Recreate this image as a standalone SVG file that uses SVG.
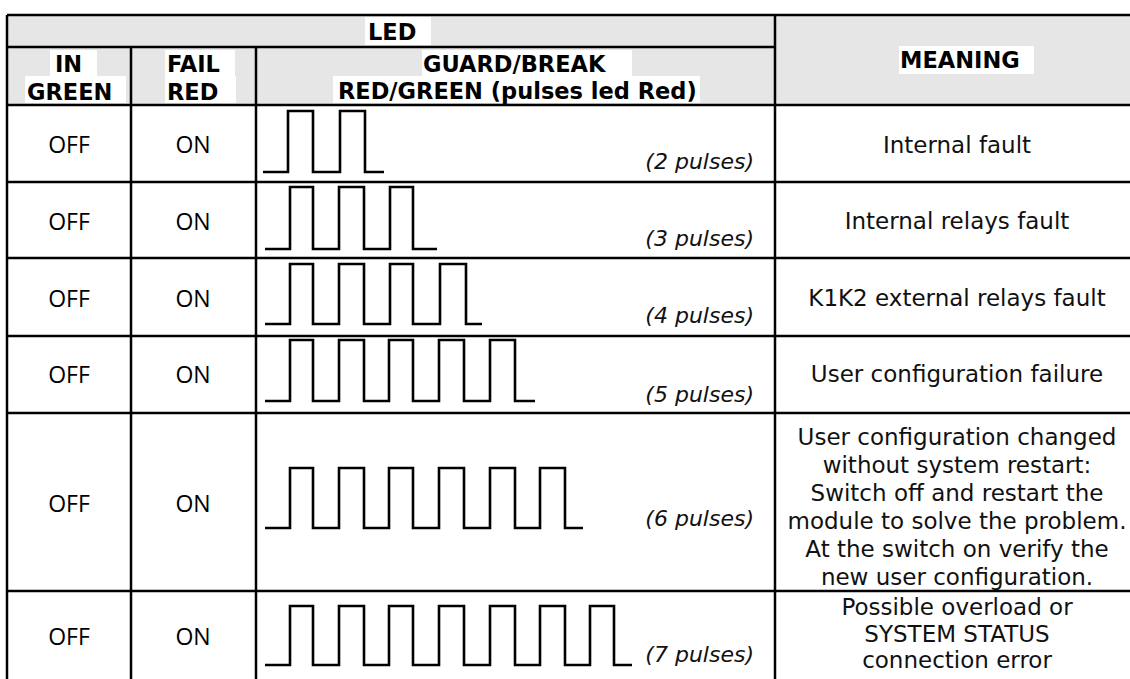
<svg xmlns="http://www.w3.org/2000/svg" width="1130" height="679" viewBox="0 0 1130 679">
<style>
.grid{stroke:#000;stroke-width:2.5;fill:none}
.hl{fill:#fff}
.hd{font-family:"DejaVu Sans",Verdana,sans-serif;font-weight:bold;font-size:22.5px;fill:#000}
.st{font-family:"Open Sans","Noto Sans",sans-serif;font-size:23px;fill:#000;text-anchor:middle}
.mn{font-family:"DejaVu Sans",Verdana,sans-serif;font-size:23px;fill:#111;text-anchor:middle}
.pl{font-family:"DejaVu Sans",Verdana,sans-serif;font-style:italic;font-size:22px;fill:#111;text-anchor:end}
.wave{stroke:#000;stroke-width:2.6;fill:none;stroke-linejoin:miter;stroke-linecap:butt}
</style>
<rect x="0" y="0" width="1130" height="679" fill="#fff"/>
<g id="header">
<rect x="7" y="15" width="1125" height="90" fill="#e6e6e6"/>
<rect class="hl" x="365" y="17" width="66" height="28"/>
<rect class="hl" x="50" y="50" width="47" height="26"/>
<rect class="hl" x="25" y="76" width="101" height="27"/>
<rect class="hl" x="165" y="50" width="70" height="26"/>
<rect class="hl" x="165" y="76" width="71" height="27"/>
<rect class="hl" x="422" y="50" width="210" height="26"/>
<rect class="hl" x="333" y="76" width="367" height="27"/>
<rect class="hl" x="899" y="46" width="135" height="28"/>
<text class="hd" x="368" y="40">LED</text>
<text class="hd" x="55" y="72">IN</text>
<text class="hd" x="27" y="100">GREEN</text>
<text class="hd" x="167" y="72">FAIL</text>
<text class="hd" x="167" y="100">RED</text>
<text class="hd" x="423" y="72">GUARD/BREAK</text>
<text class="hd" x="338" y="99">RED/GREEN (pulses led Red)</text>
<text class="hd" x="900" y="68">MEANING</text>
</g>
<g id="connectors">
<path class="grid" d="M7,15 H1132 M7,47 H775 M7,105 H1132 M7,182 H1132 M7,258 H1132 M7,336 H1132 M7,413 H1132 M7,591 H1132"/>
<path class="grid" d="M7,15 V680 M131,47 V680 M256,47 V680 M775,15 V680"/>
</g>
<g id="row1">
<text class="st" x="69" y="153">OFF</text>
<text class="st" x="193" y="153">ON</text>
<path class="wave" d="M263,172 H288 V111 H313 V172 H340 V111 H365 V172 H384"/>
<text class="pl" x="754" y="169">(2 pulses)</text>
<text class="mn" x="957" y="153">Internal fault</text>
</g>
<g id="row2">
<text class="st" x="69" y="230">OFF</text>
<text class="st" x="193" y="230">ON</text>
<path class="wave" d="M265,249 H290 V187 H313 V249 H339 V187 H364 V249 H390 V187 H413 V249 H437"/>
<text class="pl" x="754" y="246">(3 pulses)</text>
<text class="mn" x="957" y="229">Internal relays fault</text>
</g>
<g id="row3">
<text class="st" x="69" y="307">OFF</text>
<text class="st" x="193" y="307">ON</text>
<path class="wave" d="M265,324 H290 V264 H313 V324 H339 V264 H364 V324 H390 V264 H413 V324 H440 V264 H466 V324 H482"/>
<text class="pl" x="754" y="323">(4 pulses)</text>
<text class="mn" x="957" y="306">K1K2 external relays fault</text>
</g>
<g id="row4">
<text class="st" x="69" y="383">OFF</text>
<text class="st" x="193" y="383">ON</text>
<path class="wave" d="M265,401 H290 V340 H313 V401 H339 V340 H364 V401 H389 V340 H413 V401 H439 V340 H464 V401 H490 V340 H515 V401 H535"/>
<text class="pl" x="754" y="402">(5 pulses)</text>
<text class="mn" x="957" y="382">User configuration failure</text>
</g>
<g id="row5">
<text class="st" x="69" y="512">OFF</text>
<text class="st" x="193" y="512">ON</text>
<path class="wave" d="M265,528 H290 V468 H313 V528 H339 V468 H364 V528 H389 V468 H413 V528 H439 V468 H464 V528 H490 V468 H515 V528 H540 V468 H565 V528 H583"/>
<text class="pl" x="754" y="526">(6 pulses)</text>
<text class="mn" x="957" y="445">User configuration changed</text>
<text class="mn" x="957" y="473">without system restart:</text>
<text class="mn" x="957" y="501">Switch off and restart the</text>
<text class="mn" x="957" y="529">module to solve the problem.</text>
<text class="mn" x="957" y="557">At the switch on verify the</text>
<text class="mn" x="957" y="585">new user configuration.</text>
</g>
<g id="row6">
<text class="st" x="69" y="645">OFF</text>
<text class="st" x="193" y="645">ON</text>
<path class="wave" d="M265,665 H290 V606 H313 V665 H339 V606 H364 V665 H389 V606 H413 V665 H439 V606 H464 V665 H490 V606 H515 V665 H540 V606 H565 V665 H590 V606 H614 V665 H632"/>
<text class="pl" x="754" y="662">(7 pulses)</text>
<text class="mn" x="957" y="615">Possible overload or</text>
<text class="mn" x="957" y="642">SYSTEM STATUS</text>
<text class="mn" x="957" y="668">connection error</text>
</g>
</svg>
